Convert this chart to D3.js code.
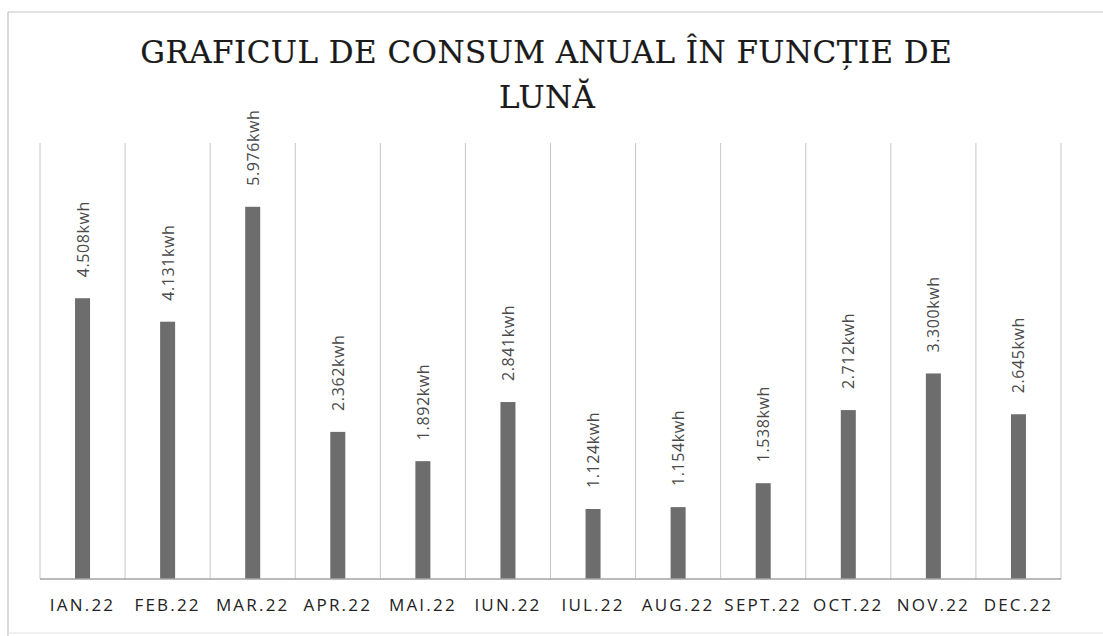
<!DOCTYPE html>
<html lang="ro">
<head>
	<meta charset="utf-8" />
	<title>Grafic consum</title>
	<script src="https://cdnjs.cloudflare.com/ajax/libs/d3/7.8.5/d3.min.js"></script>
	<style>
		body { margin: 0; background: #fff; }
		svg { display: block; }
	</style>
</head>
<body>
	<svg width="1103" height="636"></svg>
	<script>
		// data
		let months = ["IAN.22", "FEB.22", "MAR.22", "APR.22", "MAI.22", "IUN.22",
			"IUL.22", "AUG.22", "SEPT.22", "OCT.22", "NOV.22", "DEC.22"];
		let consum = [4.508, 4.131, 5.976, 2.362, 1.892, 2.841,
			1.124, 1.154, 1.538, 2.712, 3.300, 2.645];
		let valueLabels = ["4.508kwh", "4.131kwh", "5.976kwh", "2.362kwh", "1.892kwh", "2.841kwh",
			"1.124kwh", "1.154kwh", "1.538kwh", "2.712kwh", "3.300kwh", "2.645kwh"];
		let titleLines = ["GRAFICUL DE CONSUM ANUAL ÎN FUNCȚIE DE", "LUNĂ"];

		let svg = d3.select('svg');

		// outer frame (only left, top and a faint bottom show in the scan)
		svg.append('line').attr('x1', 8).attr('x2', 8).attr('y1', 12).attr('y2', 636)
			.attr('stroke', '#b5b5b5');
		svg.append('line').attr('x1', 8).attr('x2', 1103).attr('y1', 12).attr('y2', 12)
			.attr('stroke', '#c4c4c4');
		svg.append('line').attr('x1', 8).attr('x2', 1103).attr('y1', 633).attr('y2', 633)
			.attr('stroke', '#e2e2e2');

		let plotL = 40, plotR = 1061, plotT = 143, plotB = 579;

		let x = d3.scaleBand()
			.domain(months)
			.range([plotL, plotR])
			.padding(0);
		let y = d3.scaleLinear()
			.domain([0, 7])
			.range([plotB, plotT]);

		// vertical category gridlines
		let edges = months.map(m => x(m)).concat([plotR]);
		svg.selectAll('line.grid')
			.data(edges)
			.enter()
			.append('line')
			.attr('class', 'grid')
			.attr('x1', d => d).attr('x2', d => d)
			.attr('y1', plotT).attr('y2', plotB)
			.attr('stroke', '#c6c6c6')
			.attr('stroke-width', 1);

		let barW = 15;
		svg.selectAll('rect.bar')
			.data(consum)
			.enter()
			.append('rect')
			.attr('class', 'bar')
			.attr('x', (d, i) => x(months[i]) + x.bandwidth() / 2 - barW / 2)
			.attr('y', d => y(d))
			.attr('width', barW)
			.attr('height', d => y(0) - y(d))
			.attr('fill', '#6d6d6d');

		// baseline
		svg.append('line')
			.attr('x1', plotL).attr('x2', plotR)
			.attr('y1', plotB).attr('y2', plotB)
			.attr('stroke', '#a3a3a3')
			.attr('stroke-width', 1.5);

		// rotated value labels
		svg.selectAll('text.val')
			.data(consum)
			.enter()
			.append('text')
			.attr('class', 'val')
			.attr('transform', (d, i) => {
				let cx = x(months[i]) + x.bandwidth() / 2 + 6;
				return 'translate(' + cx + ',' + (y(d) - 21) + ') rotate(-90)';
			})
			.attr('font-family', 'Open Sans, sans-serif')
			.attr('font-size', 16)
			.attr('letter-spacing', 0.6)
			.attr('fill', '#4a4a4a')
			.text((d, i) => valueLabels[i]);

		// month labels
		svg.selectAll('text.month')
			.data(months)
			.enter()
			.append('text')
			.attr('class', 'month')
			.attr('x', d => x(d) + x.bandwidth() / 2)
			.attr('y', 611)
			.attr('text-anchor', 'middle')
			.attr('font-family', 'Open Sans, sans-serif')
			.attr('font-size', 17)
			.attr('letter-spacing', 2.2)
			.attr('fill', '#222')
			.text(d => d);

		// title: both lines share the same letter spacing
		let t1 = svg.append('text')
			.attr('x', 546).attr('y', 63)
			.attr('text-anchor', 'middle')
			.attr('font-family', 'DejaVu Serif, serif')
			.attr('font-size', 31)
			.attr('fill', '#1a1a1a')
			.attr('stroke', '#1a1a1a')
			.attr('stroke-width', 0.2)
			.text(titleLines[0]);
		let natural = t1.node().getComputedTextLength();
		let spacing = (812 - natural) / titleLines[0].length;
		t1.attr('letter-spacing', spacing)
			.attr('x', 546 + spacing / 2);
		svg.append('text')
			.attr('x', 547 + spacing / 2).attr('y', 108)
			.attr('text-anchor', 'middle')
			.attr('font-family', 'DejaVu Serif, serif')
			.attr('font-size', 31)
			.attr('letter-spacing', spacing)
			.attr('fill', '#1a1a1a')
			.attr('stroke', '#1a1a1a')
			.attr('stroke-width', 0.2)
			.text(titleLines[1]);
	</script>
</body>
</html>
